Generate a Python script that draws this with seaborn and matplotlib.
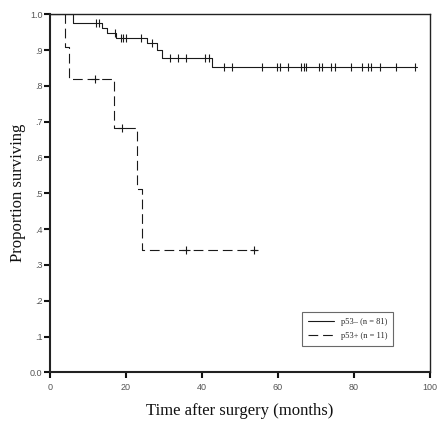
import numpy as np
import pandas as pd
import matplotlib
matplotlib.use("Agg")
import matplotlib.pyplot as plt
import seaborn as sns

# ---- data ----
neg_times = [0, 6.0, 13.7, 14.9, 17.5, 25.5, 28.2, 29.5, 42.6, 96.5]
neg_surv = [1.0, 0.976, 0.961, 0.947, 0.935, 0.919, 0.900, 0.877, 0.854, 0.854]
neg_censor = [12.0, 12.8, 17.1, 18.8, 19.3, 20.0, 23.9, 26.8, 31.6, 33.8, 35.8,
              40.9, 41.8, 45.8, 48.0, 55.9, 59.8, 60.5, 62.7, 66.0, 66.8, 67.5,
              70.9, 71.6, 73.9, 75.0, 79.1, 82.0, 83.8, 84.6, 86.8, 91.0, 96.1]

pos_times = [0, 3.9, 5.0, 16.9, 22.8, 24.1, 54.5]
pos_surv = [1.0, 0.909, 0.818, 0.682, 0.511, 0.341, 0.341]
pos_censor = [11.8, 18.9, 35.8, 53.7]

labels = ["p53\u2013 (n = 81)", "p53+ (n = 11)"]
x_ticks = [0, 20, 40, 60, 80, 100]
y_ticks = [0.0, 0.1, 0.2, 0.3, 0.4, 0.5, 0.6, 0.7, 0.8, 0.9, 1.0]
y_ticklabels = ["0.0", ".1", ".2", ".3", ".4", ".5", ".6", ".7", ".8", ".9", "1.0"]

sns.set_style("white")
plt.rcParams["lines.scale_dashes"] = False

fig = plt.figure(figsize=(4.39, 4.25), dpi=100)
ax = fig.add_axes([50 / 439, 1 - 372.3 / 425, 380 / 439, (372.3 - 14.3) / 425])

line_color = "#1a1a1a"


def surv_at(times, surv, t):
    idx = np.searchsorted(times, t, side="right") - 1
    return surv[idx]


df_neg = pd.DataFrame({"t": neg_times, "s": neg_surv})
df_pos = pd.DataFrame({"t": pos_times, "s": pos_surv})

sns.lineplot(data=df_neg, x="t", y="s", ax=ax, drawstyle="steps-post",
             estimator=None, sort=False, color=line_color, linewidth=0.8,
             label=labels[0])
sns.lineplot(data=df_pos, x="t", y="s", ax=ax, drawstyle="steps-post",
             estimator=None, sort=False, color=line_color, linewidth=0.8,
             dashes=False, label=labels[1])
ax.lines[-1].set_dashes((7, 3.5))

cn = pd.DataFrame({"t": neg_censor,
                   "s": [surv_at(neg_times, neg_surv, t) for t in neg_censor]})
cp = pd.DataFrame({"t": pos_censor,
                   "s": [surv_at(pos_times, pos_surv, t) for t in pos_censor]})
sns.scatterplot(data=cn, x="t", y="s", ax=ax, marker="|", s=30,
                color=line_color, linewidth=0.8, legend=False)
sns.scatterplot(data=cp, x="t", y="s", ax=ax, marker="+", s=40,
                color=line_color, linewidth=0.8, legend=False)

ax.set_xlim(0, 100)
ax.set_ylim(0, 1.0)
ax.set_xticks(x_ticks)
ax.set_xticklabels([str(v) for v in x_ticks])
ax.set_yticks(y_ticks)
ax.set_yticklabels(y_ticklabels)

tick_color = "#555555"
ax.tick_params(axis="both", which="major", direction="out", length=4, width=1.5,
               color="#111111", labelsize=6.5, labelcolor=tick_color, pad=1.5,
               bottom=True, left=True)
ax.tick_params(axis="x", pad=4)
for lab in ax.get_xticklabels() + ax.get_yticklabels():
    lab.set_family("Liberation Sans")

for sp in ax.spines.values():
    sp.set_visible(True)
    sp.set_color("#222222")
    sp.set_linewidth(1.0)
ax.spines["left"].set_linewidth(1.5)
ax.spines["bottom"].set_linewidth(1.5)

ax.set_xlabel("Time after surgery (months)", family="Liberation Serif",
              fontsize=12, color="#111111")
ax.set_ylabel("Proportion surviving", family="Liberation Serif",
              fontsize=12, color="#111111")
ax.xaxis.set_label_coords(0.5, -(403 - 372.3) / 358)
ax.yaxis.set_label_coords(-(50 - 26) / 380, 0.5)

leg = ax.legend(loc="upper left", bbox_to_anchor=(252 / 380, (372.3 - 311.7) / 358),
                frameon=True, fancybox=False, edgecolor="#444444",
                prop={"family": "Liberation Serif", "size": 6},
                handlelength=3.2, borderpad=0.7, labelspacing=0.8,
                handletextpad=0.8, borderaxespad=0)
leg.get_frame().set_linewidth(0.8)
leg.get_lines()[1].set_dashes((7, 3.5))

fig.savefig("out.png", dpi=100, facecolor="white")
